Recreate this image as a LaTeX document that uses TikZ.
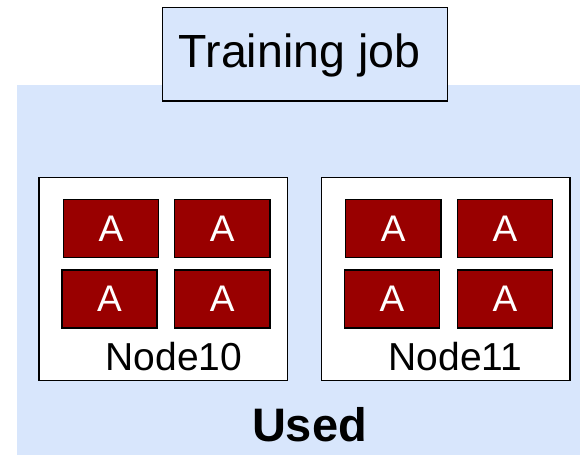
\documentclass[tikz,border=0pt]{standalone}
\usepackage{fontspec}
\setmainfont{Liberation Sans}
\definecolor{paleblue}{RGB}{216,230,252}
\definecolor{gpured}{RGB}{153,0,0}
\begin{document}
\begin{tikzpicture}[x=1pt,y=-1pt,
  hostbox/.style={draw=black,line width=1.5pt,fill=white},
  gpubox/.style={draw=black,line width=1.2pt,fill=gpured},
  gpulabel/.style={text=white,font=\fontsize{37}{37}\selectfont,inner sep=0pt},
  hostlabel/.style={font=\fontsize{39}{39}\selectfont,inner sep=0pt,anchor=base},
]
\useasboundingbox (0,0) rectangle (580,461);
% shared pool of machines
\fill[paleblue] (17,85) rectangle (580,455);
% job box on top
\draw[fill=paleblue,line width=1.2pt] (162.5,7.5) rectangle (447.5,101);
\node[font=\fontsize{46.5}{46.5}\selectfont,inner sep=0pt,anchor=base] (job) at (299.5,67) {Training job};
% machine boxes
\draw[hostbox] (39,177.5) rectangle (287.5,380.5);
\draw[hostbox] (321.5,177.5) rectangle (570,380.5);
% accelerators of both machines
\foreach \name/\xa/\xb/\ya/\yb in {a1/63.5/158.5/199.5/257.5, a2/174.5/270/199.5/257.5,
    a3/62/157/270/328, a4/174.5/270/270/328,
    b1/345.5/441/199.5/257.5, b2/457.5/552.5/199.5/257.5,
    b3/344.5/439.5/270/328, b4/457.5/552.5/270/328} {
  \draw[gpubox] (\xa,\ya) rectangle (\xb,\yb);
  \node[gpulabel] (\name) at ({(\xa+\xb)/2},{(\ya+\yb)/2}) {A};
}
\node[hostlabel] (n10) at (174,370) {Node10};
\node[hostlabel] (n11) at (455.5,370) {Node11};
\node[font=\bfseries\fontsize{47}{47}\selectfont,inner sep=0pt,anchor=base] (used) at (309.5,441) {Used};
\end{tikzpicture}
\end{document}
